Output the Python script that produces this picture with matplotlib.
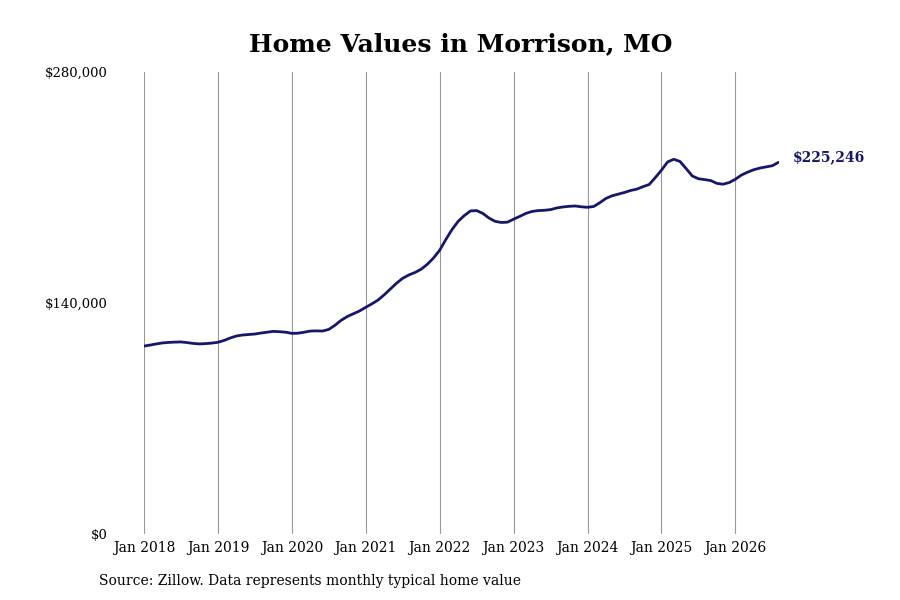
import matplotlib
matplotlib.use("Agg")
import matplotlib.pyplot as plt

plt.rcParams['font.family'] = ['DejaVu Serif']

title = "Home Values in Morrison, MO"
source = "Source: Zillow. Data represents monthly typical home value"

values = [
    113900, 114500, 115200, 115800, 116100, 116300, 116400, 116000, 115500, 115200, 115400, 115700,
    116200, 117300, 118800, 120000, 120600, 120900, 121200, 121800, 122300, 122800, 122600, 122300,
    121600, 121700, 122300, 123000, 123100, 123000, 124000, 126500, 129500, 131800, 133500, 135200,
    137400, 139500, 141800, 145000, 148500, 152000, 155000, 157000, 158500, 160500, 163500, 167300,
    172000, 178500, 184500, 189500, 193000, 195800, 196000, 194300, 191500, 189500, 188800, 189000,
    190800, 192500, 194300, 195500, 196000, 196200, 196600, 197600, 198200, 198600, 198800, 198300,
    198000, 198500, 200800, 203400, 205000, 206000, 207000, 208200, 209000, 210500, 211800, 216000,
    220500, 225500, 227100, 225800, 221500, 217000, 215300, 214800, 214200, 212500, 212000, 213000,
    215000, 217600, 219300, 220800, 221800, 222500, 223200, 225246,
]
months = list(range(len(values)))
tick_months = [0, 12, 24, 36, 48, 60, 72, 84, 96]
tick_labels = ["Jan 2018", "Jan 2019", "Jan 2020", "Jan 2021", "Jan 2022",
               "Jan 2023", "Jan 2024", "Jan 2025", "Jan 2026"]
y_ticks = [0, 140000, 280000]
y_labels = ["$0", "$140,000", "$280,000"]
end_label = "$225,246"

fig = plt.figure(figsize=(9, 6), dpi=100)
ax = fig.add_axes([144/900, 66/600, 634.5/900, 462/600])
line_color = "#17176a"
ax.plot(months, values, color=line_color, linewidth=2.0, solid_capstyle='round')
ax.set_xlim(0, 103)
ax.set_ylim(0, 280000)
ax.set_xticks(tick_months)
ax.set_xticklabels(tick_labels, fontsize=10)
ax.set_yticks(y_ticks)
ax.set_yticklabels(y_labels, fontsize=9.5)
ax.tick_params(axis='both', length=0)
ax.tick_params(axis='x', pad=5)
ax.tick_params(axis='y', pad=26)
for s in ax.spines.values():
    s.set_visible(False)
ax.grid(axis='x', color='#999999', linewidth=0.8)
ax.grid(axis='y', visible=False)

ax.annotate(end_label, xy=(months[-1], values[-1]), xytext=(10, 3.5),
            textcoords='offset points', fontsize=10, fontweight='bold',
            color=line_color, va='center', ha='left')

fig.text(461/900, 1 - 44/600, title, ha='center', va='center', fontsize=18, fontweight='bold')
fig.text(99/900, 1 - 581/600, source, ha='left', va='center', fontsize=10)

fig.savefig("out.png", dpi=100)
